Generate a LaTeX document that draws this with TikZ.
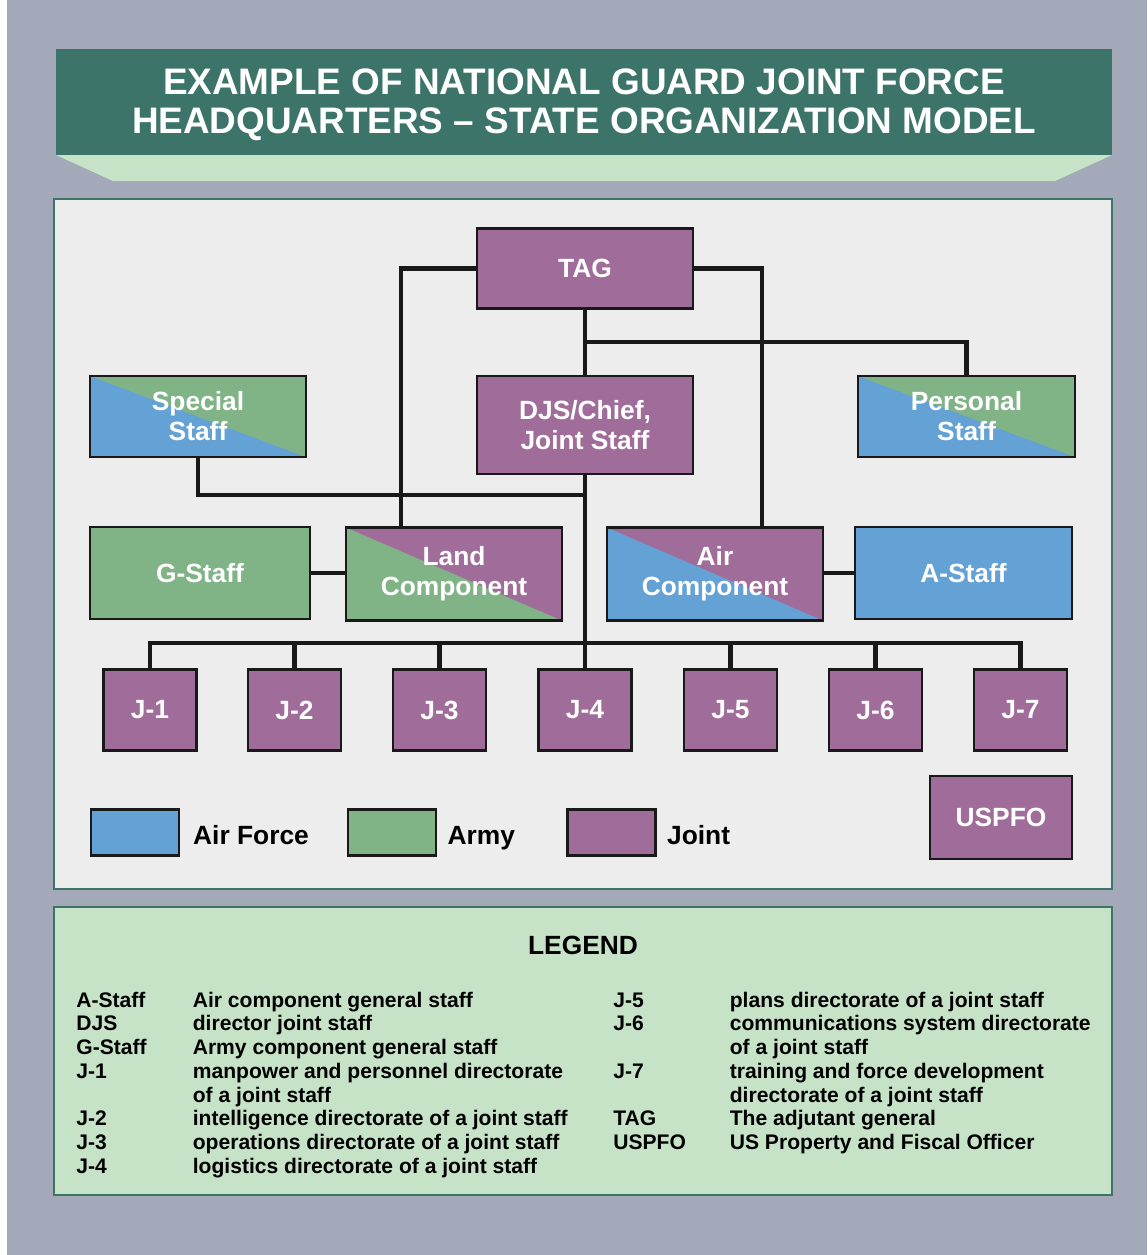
\documentclass[tikz,border=0pt]{standalone}
\usepackage{fontspec}
\setmainfont{Liberation Sans}
\usepackage{tikz}
\usetikzlibrary{positioning}
\definecolor{bggray}{HTML}{A3A9B9}
\definecolor{teal}{HTML}{3D7469}
\definecolor{mint}{HTML}{C6E3C7}
\definecolor{panelgray}{HTML}{EDEDED}
\definecolor{jointpurple}{HTML}{A06D9A}
\definecolor{armygreen}{HTML}{80B487}
\definecolor{airblue}{HTML}{64A2D6}
\tikzstyle{unit} = [rectangle, draw=black!90, line width=1.5pt, text=white, align=center, inner sep=0pt, font=\fontsize{15}{17}\selectfont\bfseries]
\tikzstyle{joint} = [unit, fill=jointpurple]
\tikzstyle{army} = [unit, fill=armygreen]
\tikzstyle{air} = [unit, fill=airblue]
\tikzstyle{jbox} = [joint, minimum width=1.86cm, minimum height=1.62cm]
\tikzstyle{link} = [draw=black!90, line width=2.3pt]
\tikzstyle{panel} = [draw=teal, line width=1.6pt]
\tikzstyle{swatch} = [rectangle, draw=black!90, line width=1.5pt, minimum width=1.76cm, minimum height=0.92cm]
\tikzstyle{keytext} = [inner sep=0pt, text height=14pt, text depth=0pt, font=\fontsize{15}{17}\selectfont\bfseries]
\tikzstyle{glossary} = [inner sep=0pt, anchor=base west, font=\fontsize{12}{13.53}\selectfont\bfseries]
\tikzset{split/.style 2 args={unit, fill=#1, path picture={
  \fill[#2] (path picture bounding box.north west) -| (path picture bounding box.south east) -- cycle;}}}

\begin{document}
\begin{tikzpicture}[x=0.02cm, y=-0.02cm]
 \useasboundingbox (0,0) rectangle (1147,1255);
 % background and panels
 \fill[white] (0,0) rectangle (1147,1255);
 \fill[bggray] (7,0) rectangle (1147,1255);
 \fill[teal] (56,49) rectangle (1112,155);
 \fill[mint] (56,155) -- (1112,155) -- (1055,181) -- (113,181) -- cycle;
 \node (title) at (584,105) [text=white, align=center, font=\fontsize{21}{22}\selectfont\bfseries]
  {EXAMPLE OF NATIONAL GUARD JOINT FORCE\\HEADQUARTERS -- STATE ORGANIZATION MODEL};
 \filldraw[panel, fill=panelgray] (54,199) rectangle (1112,889);
 \filldraw[panel, fill=mint] (54,907) rectangle (1112,1195);

 % chart
 \node (tag) at (585,268.5) [joint, minimum width=4.32cm, minimum height=1.6cm] {TAG};
 \node (djs) at (585,425) [joint, minimum width=4.32cm, minimum height=1.96cm] {DJS/Chief,\\Joint Staff};
 \node (special) at (198,416.5) [split={airblue}{armygreen}, minimum width=4.32cm, minimum height=1.62cm] {Special\\Staff};
 \node (personal) at (966.5,416.5) [split={airblue}{armygreen}, minimum width=4.34cm, minimum height=1.62cm] {Personal\\Staff};
 \node (gstaff) at (200,573) [army, minimum width=4.4cm, minimum height=1.84cm] {G-Staff};
 \node (land) at (454,574) [split={armygreen}{jointpurple}, minimum width=4.32cm, minimum height=1.86cm] {Land\\Component};
 \node (air) at (715,574) [split={airblue}{jointpurple}, minimum width=4.32cm, minimum height=1.86cm] {Air\\Component};
 \node (astaff) at (963.5,573) [air, minimum width=4.34cm, minimum height=1.84cm] {A-Staff};
 \foreach \n/\x in {1/150,2/294.5,3/439.5,4/585,5/730.5,6/875.5,7/1020.5}
  \node (j\n) at (\x,710) [jbox] {J-\n};
 \node (uspfo) at (1001,817.5) [joint, minimum width=2.84cm, minimum height=1.66cm] {USPFO};

 \coordinate (pbus) at (585,342);
 \coordinate (sbus) at (585,495);
 \coordinate (bus) at (585,643);
 \draw[link] (tag) -- (djs);
 \draw[link] (djs.south) -- (j4.north);
 \draw[link] (pbus) -| (personal.north);
 \draw[link] (special.south) |- (sbus);
 \draw[link] (tag.west) -| ([xshift=-1.06cm]land.north);
 \draw[link] (tag.east) -| ([xshift=0.94cm]air.north);
 \draw[link] (gstaff.east) -- (gstaff.east -| land.west);
 \draw[link] (astaff.west) -- (astaff.west -| air.east);
 \draw[link] (j1.north) |- (bus) -| (j7.north);
 \foreach \n in {2,3,5,6}
  \draw[link] (j\n.north) -- (j\n.north |- bus);

 % colour key
 \node (swair) at (135,832.5) [swatch, fill=airblue] {};
 \node (swarmy) at (392,832.5) [swatch, fill=armygreen] {};
 \node (swjoint) at (611.5,832.5) [swatch, fill=jointpurple] {};
 \node (kair) [keytext, right=0.25cm of swair] {Air Force};
 \node (karmy) [keytext, right=0.2cm of swarmy] {Army};
 \node (kjoint) [keytext, right=0.2cm of swjoint] {Joint};

 % legend
 \node (legend) at (583,945) [font=\fontsize{15}{17}\selectfont\bfseries] {LEGEND};
 \node (glossleft) at (76,1007) [glossary] {
\begin{tabular}[t]{@{}p{66.3pt}@{}l@{}}
  A-Staff & Air component general staff\\
  DJS & director joint staff\\
  G-Staff & Army component general staff\\
  J-1 & manpower and personnel directorate\\
   & of a joint staff\\
  J-2 & intelligence directorate of a joint staff\\
  J-3 & operations directorate of a joint staff\\
  J-4 & logistics directorate of a joint staff
 \end{tabular}};
 \node (glossright) at (613,1007) [glossary] {
\begin{tabular}[t]{@{}p{66.3pt}@{}l@{}}
  J-5 & plans directorate of a joint staff\\
  J-6 & communications system directorate\\
   & of a joint staff\\
  J-7 & training and force development\\
   & directorate of a joint staff\\
  TAG & The adjutant general\\
  USPFO & US Property and Fiscal Officer
 \end{tabular}};
\end{tikzpicture}
\end{document}
